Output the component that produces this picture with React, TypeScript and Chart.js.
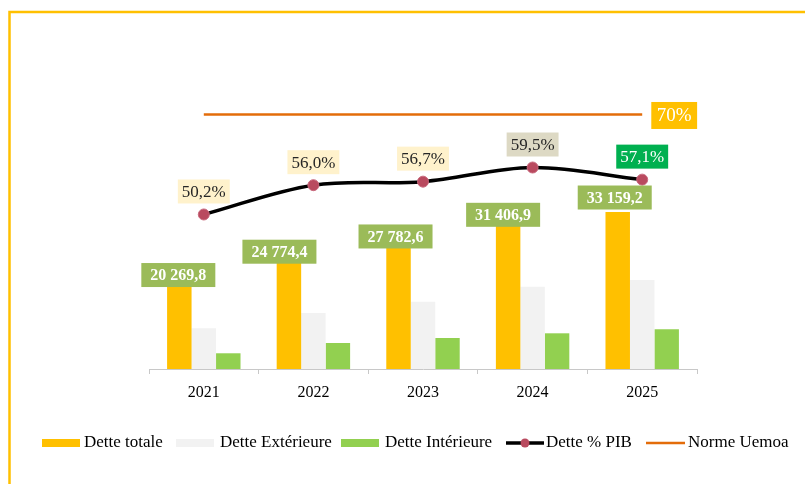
import React, { useEffect, useRef } from "react";
import { Chart, registerables } from "chart.js";

Chart.register(...registerables);

const years = ["2021", "2022", "2023", "2024", "2025"];
const detteTotale = [20269.8, 24774.4, 27782.6, 31406.9, 33159.2];
const detteExterieure = [8600, 11830, 14210, 17380, 18800];
const detteInterieure = [3320, 5490, 6550, 7540, 8380];
const dettePib = [50.2, 56.0, 56.7, 59.5, 57.1];
const normeUemoa = [70, 70, 70, 70, 70];

const legendItems = ["Dette totale", "Dette Extérieure", "Dette Intérieure", "Dette % PIB", "Norme Uemoa"];

// label placement tweaks (px), like manual moves in the source
const totalDx = [-1, -9.5, -3, -5, -3];
const totalDy = [2, 0, -1, -5.5, -14.5];
const pibBoxColors = ["#FFF2CC", "#FFF2CC", "#FFF2CC", "#DDD9C4", "#00B050"];
const pibTextColors = ["#262626", "#262626", "#262626", "#262626", "#FFFFFF"];

const SERIF = '"Liberation Serif", "Times New Roman", serif';

function fmtFr(v: number, digits: number): string {
  const s = v.toFixed(digits);
  const [ip, dp] = s.split(".");
  const withSpaces = ip.replace(/\B(?=(\d{3})+(?!\d))/g, " ");
  return dp !== undefined ? withSpaces + "," + dp : withSpaces;
}

const framePlugin = {
  id: "frame",
  beforeDraw(chart: any) {
    const ctx = chart.ctx;
    ctx.save();
    ctx.fillStyle = "#FFFFFF";
    ctx.fillRect(0, 0, chart.width, chart.height);
    ctx.strokeStyle = "#FFC000";
    ctx.lineWidth = 2.5;
    ctx.beginPath();
    ctx.moveTo(9.5, chart.height + 2);
    ctx.lineTo(9.5, 12);
    ctx.lineTo(chart.width + 2, 12);
    ctx.stroke();
    ctx.restore();
  },
};

const labelPlugin = {
  id: "valueLabels",
  afterDatasetsDraw(chart: any) {
    const ctx = chart.ctx;
    ctx.save();
    ctx.textAlign = "center";
    ctx.textBaseline = "middle";

    // Dette totale labels
    const barMeta = chart.getDatasetMeta(0);
    ctx.font = "bold 16px " + SERIF;
    barMeta.data.forEach((el: any, i: number) => {
      const txt = fmtFr(detteTotale[i], 1);
      const cx = el.x + totalDx[i];
      const cy = el.y + totalDy[i];
      const w = ctx.measureText(txt).width + 18;
      const h = 24;
      ctx.fillStyle = "#9BBB59";
      ctx.fillRect(cx - w / 2, cy - h / 2, w, h);
      ctx.fillStyle = "#FFFFFF";
      ctx.fillText(txt, cx, cy + 1);
    });

    // Dette % PIB labels
    const lineMeta = chart.getDatasetMeta(3);
    ctx.font = "17px " + SERIF;
    lineMeta.data.forEach((el: any, i: number) => {
      const txt = fmtFr(dettePib[i], 1) + "%";
      const cx = el.x;
      const cy = el.y - 23;
      const w = ctx.measureText(txt).width + 8;
      const h = 24;
      ctx.fillStyle = pibBoxColors[i];
      ctx.fillRect(cx - w / 2, cy - h / 2, w, h);
      ctx.fillStyle = pibTextColors[i];
      ctx.fillText(txt, cx, cy + 1);
    });

    // Norme label
    const nMeta = chart.getDatasetMeta(4);
    const last = nMeta.data[nMeta.data.length - 1];
    if (last) {
      ctx.font = "19px " + SERIF;
      const txt = fmtFr(normeUemoa[normeUemoa.length - 1], 0) + "%";
      const w = ctx.measureText(txt).width + 11;
      const h = 27;
      const cx = last.x + 32;
      const cy = last.y + 1;
      ctx.fillStyle = "#FFC000";
      ctx.fillRect(cx - w / 2, cy - h / 2, w, h);
      ctx.fillStyle = "#FFFFFF";
      ctx.fillText(txt, cx, cy + 1);
    }
    ctx.restore();
  },
};

const legendPlugin = {
  id: "customLegend",
  afterDraw(chart: any) {
    const ctx = chart.ctx;
    const y = 443;
    ctx.save();
    ctx.font = "17px " + SERIF;
    ctx.textBaseline = "middle";
    ctx.textAlign = "left";
    // swatches
    ctx.fillStyle = "#FFC000";
    ctx.fillRect(42, y - 4, 38, 8);
    ctx.fillStyle = "#F2F2F2";
    ctx.fillRect(176, y - 4, 38, 8);
    ctx.fillStyle = "#92D050";
    ctx.fillRect(341, y - 4, 38, 8);
    // line with marker
    ctx.strokeStyle = "#000000";
    ctx.lineWidth = 3.5;
    ctx.beginPath();
    ctx.moveTo(506, y);
    ctx.lineTo(544, y);
    ctx.stroke();
    ctx.fillStyle = "#B94A5F";
    ctx.beginPath();
    ctx.arc(525, y, 4.5, 0, Math.PI * 2);
    ctx.fill();
    // orange line
    ctx.strokeStyle = "#E36C0A";
    ctx.lineWidth = 2.5;
    ctx.beginPath();
    ctx.moveTo(646, y);
    ctx.lineTo(685, y);
    ctx.stroke();
    // texts
    ctx.fillStyle = "#000000";
    const xs = [84, 220, 385, 546, 688];
    legendItems.forEach((t, i) => ctx.fillText(t, xs[i], y));
    ctx.restore();
  },
};

export default function App() {
  const ref = useRef<HTMLCanvasElement | null>(null);

  useEffect(() => {
    if (!ref.current) return;
    const chart = new Chart(ref.current, {
      type: "bar",
      data: {
        labels: years,
        datasets: [
          {
            type: "bar",
            label: legendItems[0],
            data: detteTotale,
            backgroundColor: "#FFC000",
            yAxisID: "y",
            order: 2,
          },
          {
            type: "bar",
            label: legendItems[1],
            data: detteExterieure,
            backgroundColor: "#F2F2F2",
            yAxisID: "y",
            order: 2,
          },
          {
            type: "bar",
            label: legendItems[2],
            data: detteInterieure,
            backgroundColor: "#92D050",
            yAxisID: "y",
            order: 2,
          },
          {
            type: "line",
            label: legendItems[3],
            data: dettePib,
            borderColor: "#000000",
            borderWidth: 3.5,
            tension: 0.35,
            pointRadius: 5.5,
            pointBackgroundColor: "#B94A5F",
            pointBorderColor: "#C96A7E",
            pointBorderWidth: 1,
            yAxisID: "y2",
            order: 0,
          },
          {
            type: "line",
            label: legendItems[4],
            data: normeUemoa,
            borderColor: "#E36C0A",
            borderWidth: 2.5,
            pointRadius: 0,
            yAxisID: "y2",
            order: 1,
          },
        ] as any,
      },
      options: {
        responsive: false,
        animation: false,
        layout: { padding: { left: 149, right: 108, top: 66, bottom: 0 } },
        plugins: {
          legend: { display: false },
          tooltip: { enabled: false },
        },
        datasets: {
          bar: { categoryPercentage: 0.67, barPercentage: 1.0 },
        },
        scales: {
          x: {
            offset: true,
            grid: {
              display: true,
              drawOnChartArea: false,
              drawTicks: true,
              tickLength: 5,
              color: "#C8C8C8",
              offset: true,
            },
            border: { display: true, color: "#C8C8C8", width: 1 },
            ticks: {
              color: "#000000",
              font: { family: SERIF, size: 16 },
              padding: 9,
            },
            afterFit: (axis: any) => {
              axis.height = 115;
            },
          },
          y: {
            display: false,
            min: 0,
            max: 64000,
          },
          y2: {
            display: false,
            position: "right",
            min: 19.6,
            max: 79.6,
          },
        },
      } as any,
      plugins: [framePlugin, labelPlugin, legendPlugin],
    });
    return () => chart.destroy();
  }, []);

  return (
    <div style={{ position: "absolute", left: 0, top: 0, width: 805, height: 484, background: "#fff" }}>
      <canvas ref={ref} width={805} height={484} style={{ width: 805, height: 484, display: "block" }} />
    </div>
  );
}
